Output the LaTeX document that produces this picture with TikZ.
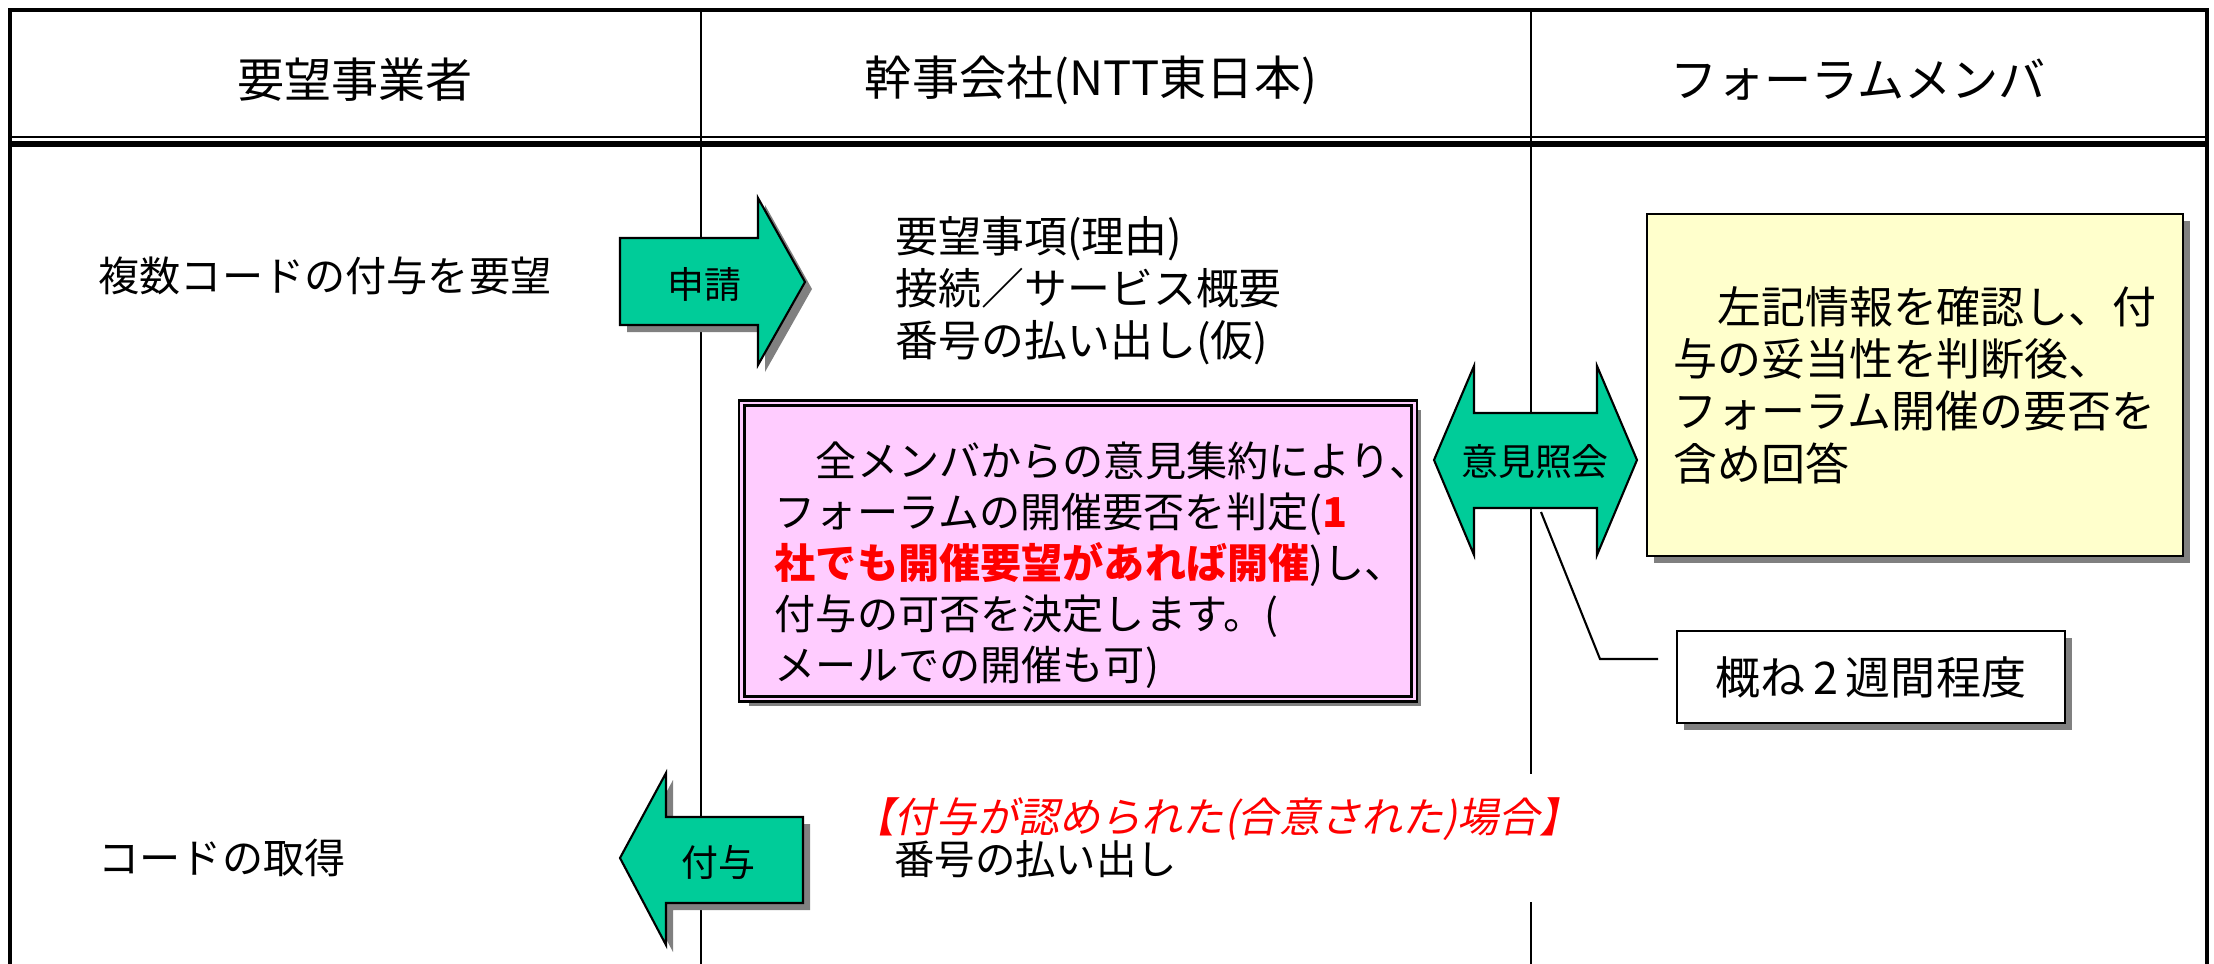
\documentclass[tikz,border=0pt]{standalone}
\usepackage{fontspec}
\setmainfont{Noto Sans CJK JP}
\newfontfamily\slantfont[FakeSlant=0.2]{Noto Sans CJK JP}
\usepackage{xcolor}
\usepackage{tikz}
\usetikzlibrary{positioning,calc,shadows}
\definecolor{arrgreen}{HTML}{00CC99}
\definecolor{boxpink}{HTML}{FFCCFF}
\definecolor{boxyellow}{HTML}{FFFFCC}
\definecolor{shdwgray}{HTML}{808080}
\tikzstyle{shdw}= [drop shadow={shadow xshift=0.07cm, shadow yshift=-0.07cm, fill=shdwgray, opacity=1}]
\tikzstyle{hdr}= [inner sep=0pt, font=\fontsize{13.4}{16}\selectfont]
\tikzstyle{txt}= [anchor=west, inner sep=0pt, align=left, font=\fontsize{11.7}{14.5}\selectfont]
\tikzstyle{lbl}= [inner sep=0pt, font=\fontsize{10.5}{12}\selectfont]
\tikzstyle{arr}= [draw, line width=0.6pt, fill=arrgreen]

\begin{document}
\begin{tikzpicture}[x=0.01cm, y=-0.01cm]
				\useasboundingbox (0,0) rectangle (2214,964);
				% frame and lanes
				\draw[line width=1.1pt] (10,964) -- (10,10) -- (2207,10) -- (2207,964);
				\draw[line width=0.8pt] (10,137) -- (2207,137);
				\draw[line width=1.5pt] (10,144) -- (2207,144);
				\draw[line width=0.7pt] (701,10) -- (701,964);
				\draw[line width=0.7pt] (1531,10) -- (1531,964);

				\node[hdr] (h1) at (355,80) {要望事業者};
				\node[hdr] (h2) at (1091,80) {幹事会社(NTT東日本)};
				\node[hdr] (h3) at (1858,80) {フォーラムメンバ};

				\node[txt] (want) at (98,276) {複数コードの付与を要望};
				\node[txt] (get) at (98,858) {コードの取得};

				% arrows
				\draw[arr, shdw] (620,238) -- (758,238) -- (758,198) -- (805,282) -- (758,365) -- (758,325) -- (620,325) -- cycle;
				\node[lbl] (req) at (704,284) {申請};
				\draw[arr, shdw] (620,858) -- (666,773) -- (666,817) -- (803,817) -- (803,903) -- (666,903) -- (666,945) -- cycle;
				\node[lbl] (give) at (718,862) {付与};
				\draw[arr] (1434,460) -- (1474,366) -- (1474,413) -- (1597,413) -- (1597,366) -- (1637,460) -- (1597,555) -- (1597,508) -- (1474,508) -- (1474,555) -- cycle;
				\node[lbl] (ask) at (1535,462) {意見照会};

				\node[txt, font=\fontsize{12.2}{14.8}\selectfont] (items) at (895,291) {要望事項(理由)\\接続／サービス概要\\番号の払い出し(仮)};

				% pink box
				\node[draw, line width=0.7pt, double=boxpink, double distance=0.8pt, fill=boxpink, shdw, minimum width=6.72cm, minimum height=2.96cm] (pk) at (1078,551) {};
				\node[txt] (pktxt) at (774,565) {　全メンバからの意見集約により、\\フォーラムの開催要否を判定(\textcolor{red}{\bfseries 1}\\\textcolor{red}{\bfseries 社でも開催要望があれば開催})し、\\付与の可否を決定します。(\\メールでの開催も可)};

				% yellow box
				\node[draw, line width=0.6pt, fill=boxyellow, shdw, minimum width=5.36cm, minimum height=3.41cm, align=left, font=\fontsize{12.5}{14.9}\selectfont] (yb) at (1915,385) {　左記情報を確認し、付\\与の妥当性を判断後、\\フォーラム開催の要否を\\含め回答};

				\node[draw, line width=0.7pt, fill=white, shdw, minimum width=3.88cm, minimum height=0.92cm, font=\fontsize{12.8}{15}\selectfont] (wk) at (1871,677) {概ね\,2\,週間程度};
				\coordinate (c1) at (1541,512);
				\coordinate (c2) at (1658,659);
				\draw[line width=0.6pt] (c1) -- (1600,659) -- (c2);

				\node[anchor=west, fill=white, inner xsep=0.05cm, minimum height=1.28cm, align=left] (ok) at (848,838) {\slantfont\fontsize{11.7}{13.5}\selectfont\textcolor{red}{【付与が認められた(合意された)場合】}\\\fontsize{11.5}{13.5}\selectfont　番号の払い出し};
			\end{tikzpicture}
\end{document}
